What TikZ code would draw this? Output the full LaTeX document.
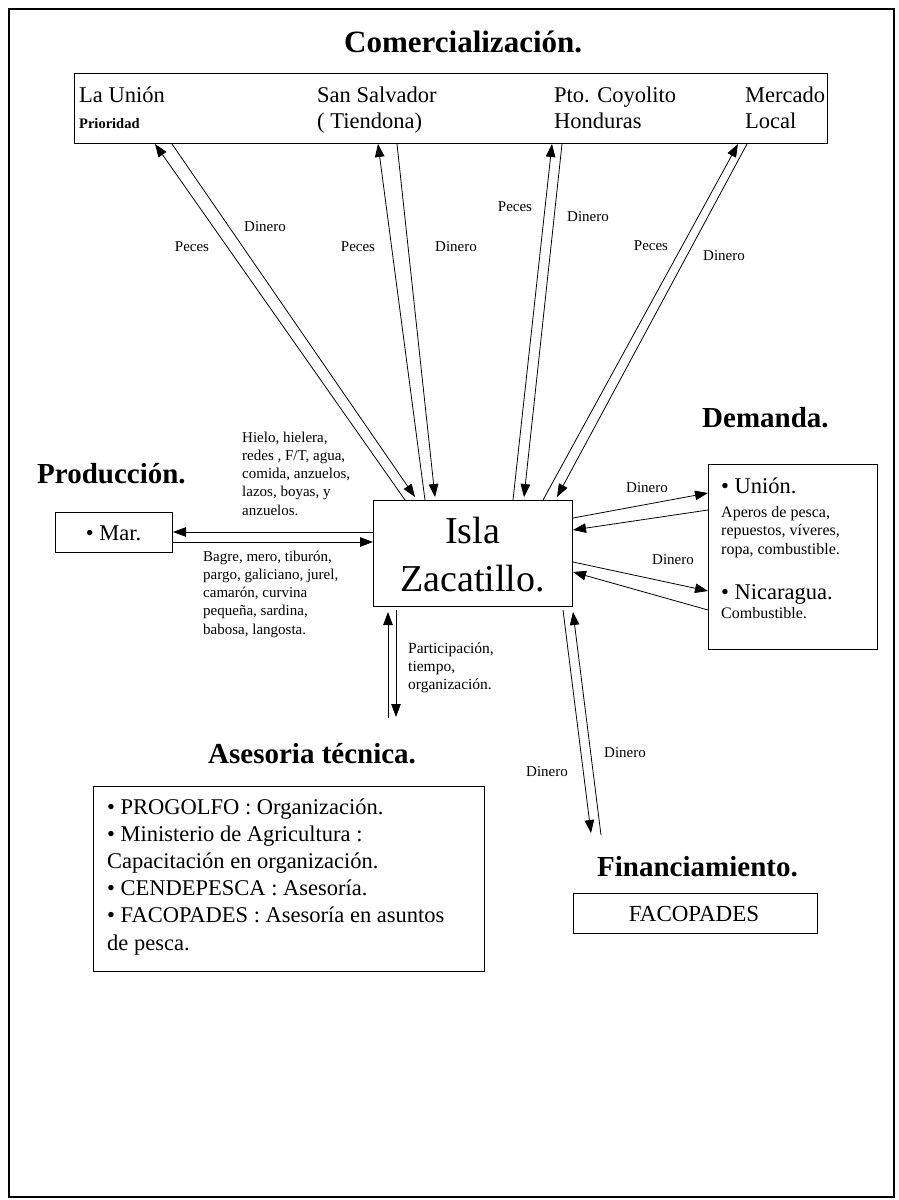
\documentclass[tikz,border=0pt]{standalone}
\usepackage{fontspec}
\setmainfont{Liberation Serif}
\usetikzlibrary{arrows.meta}
\newcommand\fsz[2]{\fontsize{#1}{#2}\selectfont}
\begin{document}
\begin{tikzpicture}[x=1pt,y=-1pt,
  box/.style={draw, line width=1pt, inner sep=0pt, anchor=north west},
  flow/.style={line width=0.8pt, -{Triangle[length=13pt,width=9.5pt]}},
  lbl/.style={inner sep=0pt, font=\fsz{15}{18}},
  ttl/.style={inner sep=0pt, anchor=base west, font=\fsz{29}{34}\bfseries},
  txt/.style={inner sep=0pt, anchor=base west},
  big/.style={font=\fsz{22.5}{25}},
  small/.style={font=\fsz{15}{18.3}},
  smallb/.style={font=\fsz{16}{18.5}}]
\useasboundingbox (0,0) rectangle (899,1200);
\node[box, line width=1.5pt, minimum width=885pt, minimum height=1188pt] (frame) at (8,8) {};
% boxes
\node[box, minimum width=753pt, minimum height=70pt] (com) at (74,73) {};
\node[box, minimum width=199pt, minimum height=106pt] (isla) at (373,500) {};
\node[box, minimum width=117pt, minimum height=40pt] (mar) at (55,512) {};
\node[box, minimum width=169pt, minimum height=185pt] (dem) at (708,464) {};
\node[box, minimum width=391pt, minimum height=185pt] (ase) at (93,786) {};
\node[box, minimum width=244pt, minimum height=40pt] (fin) at (573,893) {};
% titles
\node[ttl, font=\fsz{31}{34}\bfseries] (tcom) at (344,52) {Comercialización.};
\node[ttl] (tpro) at (37,483) {Producción.};
\node[ttl] (tdem) at (702,427) {Demanda.};
\node[ttl] (tase) at (208,763) {Asesoria técnica.};
\node[ttl] (tfin) at (597,876) {Financiamiento.};
% comercializacion texts
\node[txt, big] (c1) at (79,102) {La Unión};
\node[txt, font=\fsz{14.5}{17}\bfseries] (c1b) at (79,128) {Prioridad};
\node[txt, big] (c2) at (317,102) {San Salvador};
\node[txt, big] (c2b) at (317,128) {( Tiendona)};
\node[txt, big] (c3) at (554,102) {Pto. Coyolito};
\node[txt, big] (c3b) at (554,128) {Honduras};
\node[txt, big] (c4) at (745,102) {Mercado};
\node[txt, big] (c4b) at (745,128) {Local};
% isla
\node[inner sep=0pt, anchor=base, font=\fsz{38}{48}] (i1) at (472.5,543) {Isla};
\node[inner sep=0pt, anchor=base, font=\fsz{38}{48}] (i2) at (472.5,591) {Zacatillo.};
% mar
\node[inner sep=0pt, anchor=base, big] (m1) at (113.5,540) {• Mar.};
% demanda
\node[txt, big] (d1) at (721,493) {• Unión.};
\node[txt, smallb] (d2) at (721,517) {\begin{tabular}[t]{@{}l@{}}Aperos de pesca,\\repuestos, víveres,\\ropa, combustible.\end{tabular}};
\node[txt, big] (d3) at (721,599) {• Nicaragua.};
\node[txt, smallb] (d4) at (721,618) {Combustible.};
% asesoria
\node[txt, font=\fsz{22.5}{27.2}] (a1) at (107,814) {\begin{tabular}[t]{@{}l@{}}• PROGOLFO : Organización.\\• Ministerio de Agricultura :\\Capacitación en organización.\\• CENDEPESCA : Asesoría.\\• FACOPADES : Asesoría en asuntos\\de pesca.\end{tabular}};
% financiamiento
\node[inner sep=0pt, anchor=base, font=\fsz{23}{25}] (f1) at (694,921) {FACOPADES};
% side texts
\node[txt, small] (hielo) at (242,442) {\begin{tabular}[t]{@{}l@{}}Hielo, hielera,\\redes , F/T, agua,\\comida, anzuelos,\\lazos, boyas, y\\anzuelos.\end{tabular}};
\node[txt, small] (bagre) at (203,561) {\begin{tabular}[t]{@{}l@{}}Bagre, mero, tiburón,\\pargo, galiciano, jurel,\\camarón, curvina\\pequeña, sardina,\\babosa, langosta.\end{tabular}};
\node[txt, font=\fsz{15.5}{18.3}] (part) at (408,653) {\begin{tabular}[t]{@{}l@{}}Participación,\\tiempo,\\organización.\end{tabular}};
% labels
\node[lbl] (lp1) at (192,247) {Peces};
\node[lbl] (ld1) at (265,227) {Dinero};
\node[lbl] (lp2) at (358,247) {Peces};
\node[lbl] (ld2) at (456,247) {Dinero};
\node[lbl] (lp3) at (515,207) {Peces};
\node[lbl] (ld3) at (588,217) {Dinero};
\node[lbl] (lp4) at (651,246) {Peces};
\node[lbl] (ld4) at (724,256) {Dinero};
\node[lbl] (ld5) at (647,488) {Dinero};
\node[lbl] (ld6) at (673,560) {Dinero};
\node[lbl] (ld7) at (547,772) {Dinero};
\node[lbl] (ld8) at (625,753) {Dinero};
% free ends
\coordinate (aup) at (388,718);
\coordinate (adn) at (396,717);
\coordinate (fdn) at (591,833);
\coordinate (fup) at (601,835);
% connectors to comercializacion
\draw[flow] (405,0 |- isla.north) -- (155,0 |- com.south);
\draw[flow] (172,0 |- com.south) -- (415,497);
\draw[flow] (425,0 |- isla.north) -- (378,0 |- com.south);
\draw[flow] (397,0 |- com.south) -- (435,497);
\draw[flow] (513,0 |- isla.north) -- (552,0 |- com.south);
\draw[flow] (562,0 |- com.south) -- (524,497);
\draw[flow] (543,0 |- isla.north) -- (738,0 |- com.south);
\draw[flow] (747,0 |- com.south) -- (557,497);
% mar
\draw[flow] (isla.west |- 0,532) -- (mar.east |- 0,532);
\draw[flow] (mar.east |- 0,542) -- (isla.west |- 0,542);
% demanda
\draw[flow] (isla.east |- 0,518) -- (dem.west |- 0,493);
\draw[flow] (dem.west |- 0,510) -- (isla.east |- 0,530);
\draw[flow] (isla.east |- 0,562) -- (dem.west |- 0,591);
\draw[flow] (dem.west |- 0,610) -- (isla.east |- 0,572);
% asesoria
\draw[flow] (aup) -- (388,612);
\draw[flow] (396,610) -- (adn);
% financiamiento
\draw[flow] (563,610) -- (fdn);
\draw[flow] (fup) -- (573,612);
\end{tikzpicture}
\end{document}
